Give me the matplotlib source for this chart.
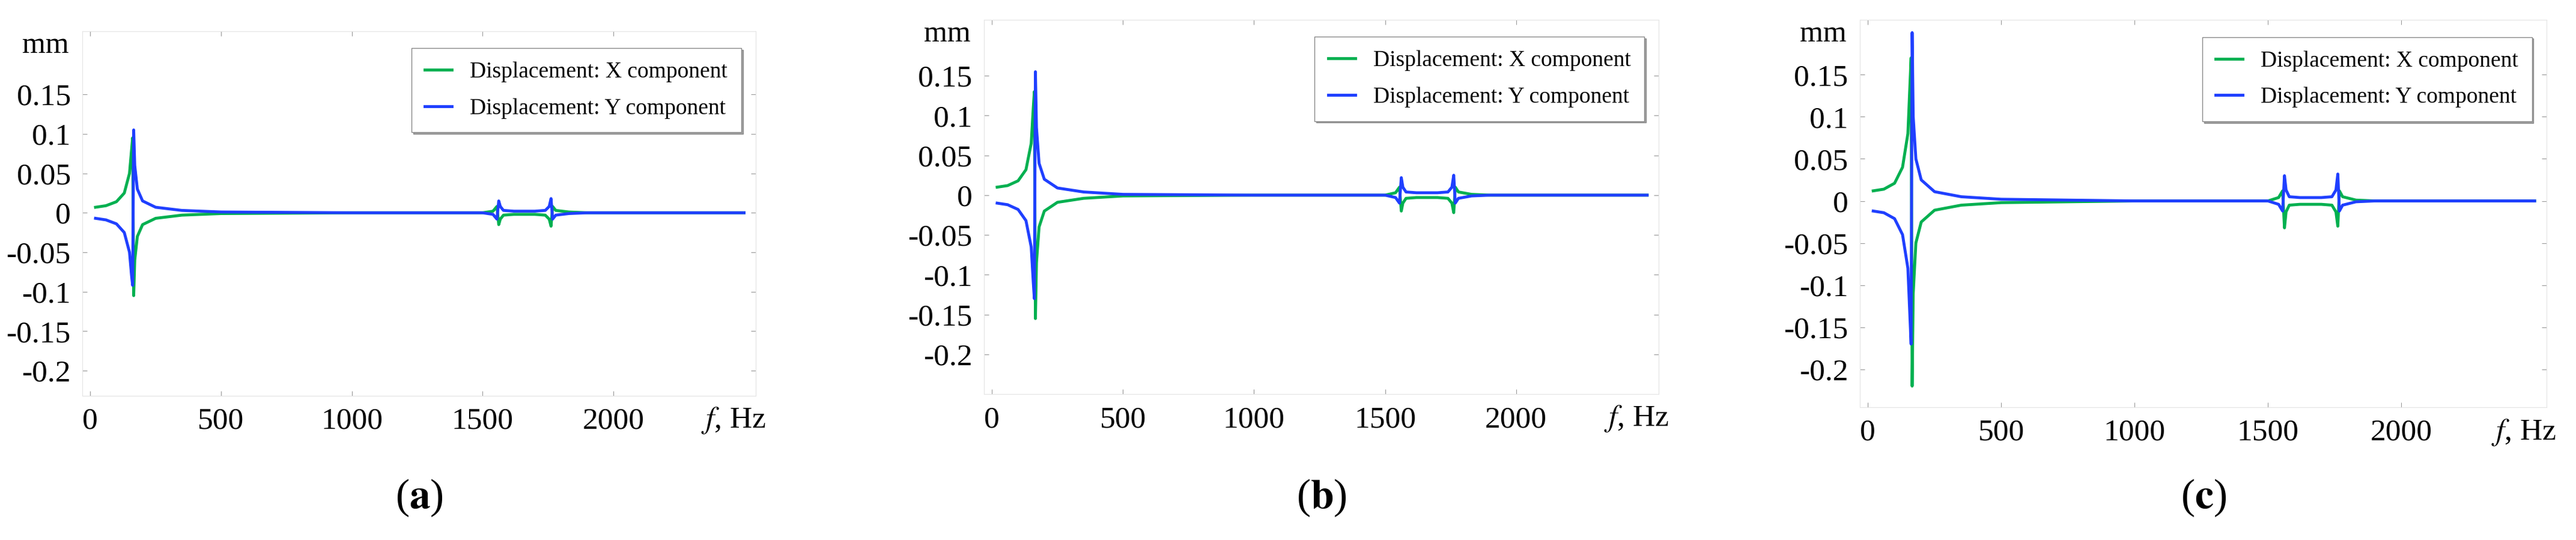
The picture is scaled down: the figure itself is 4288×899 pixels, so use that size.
import matplotlib.pyplot as plt

plt.rcParams['font.family'] = ['Liberation Serif', 'DejaVu Serif']
plt.rcParams['mathtext.fontset'] = 'stix'

freq = [20, 60, 100, 130, 150, 158, 162, 166, 170, 180, 200, 250, 350, 500, 1000, 1500,
        1540, 1555, 1562, 1568, 1580, 1620, 1700, 1740, 1755, 1762, 1768, 1780, 1830, 1900, 2000, 2500]

# panel (a)
xa = [0.007, 0.009, 0.014, 0.025, 0.05, 0.08, 0.095, -0.105, -0.06, -0.03, -0.015, -0.007, -0.003, -0.001, 0, 0,
      0.002, 0.008, -0.015, -0.008, -0.003, -0.002, -0.002, -0.003, -0.008, -0.017, 0.008, 0.003, 0.001, 0, 0, 0]
ya = [-0.007, -0.009, -0.014, -0.025, -0.05, -0.08, -0.092, 0.105, 0.06, 0.03, 0.015, 0.007, 0.003, 0.001, 0, 0,
      -0.002, -0.008, 0.015, 0.008, 0.003, 0.002, 0.002, 0.003, 0.008, 0.018, -0.008, -0.003, -0.001, 0, 0, 0]
# panel (b)
xb = [0.01, 0.012, 0.018, 0.032, 0.065, 0.11, 0.13, -0.155, -0.085, -0.04, -0.02, -0.009, -0.004, -0.001, 0, 0,
      0.003, 0.01, -0.02, -0.01, -0.004, -0.003, -0.003, -0.004, -0.01, -0.022, 0.01, 0.004, 0.001, 0, 0, 0]
yb = [-0.01, -0.012, -0.018, -0.032, -0.065, -0.11, -0.13, 0.155, 0.085, 0.04, 0.02, 0.009, 0.004, 0.001, 0, 0,
      -0.003, -0.01, 0.022, 0.01, 0.004, 0.003, 0.003, 0.004, 0.01, 0.025, -0.01, -0.004, -0.001, 0, 0, 0]
# panel (c)
xc = [0.012, 0.014, 0.021, 0.04, 0.08, 0.14, 0.17, -0.22, -0.11, -0.05, -0.025, -0.011, -0.005, -0.002, 0, 0,
      0.004, 0.012, -0.032, -0.013, -0.005, -0.004, -0.004, -0.005, -0.013, -0.03, 0.012, 0.005, 0.001, 0, 0, 0]
yc = [-0.012, -0.014, -0.021, -0.04, -0.08, -0.14, -0.17, 0.2, 0.1, 0.05, 0.025, 0.011, 0.005, 0.002, 0, 0,
      -0.004, -0.012, 0.03, 0.013, 0.005, 0.004, 0.004, 0.005, 0.013, 0.032, -0.012, -0.005, -0.001, 0, 0, 0]

yticks = [0.15, 0.1, 0.05, 0, -0.05, -0.1, -0.15, -0.2]
ytick_labels = ['0.15', '0.1', '0.05', '0', '-0.05', '-0.1', '-0.15', '-0.2']
xticks = [0, 500, 1000, 1500, 2000]
labels = ['a', 'b', 'c']

panels = [
    ([0.032, 0.267, 0.2614, 0.675], (-0.232, 0.23), xa, ya),
    ([0.382, 0.270, 0.262, 0.693], (-0.25, 0.22), xb, yb),
    ([0.722, 0.246, 0.2666, 0.717], (-0.245, 0.215), xc, yc),
]

fig = plt.figure(figsize=(42.88, 8.99), dpi=100)
for i, (rect, ylim, xs, ys) in enumerate(panels):
    ax = fig.add_axes(rect)
    ax.plot(freq, xs, color='#00b050', lw=3.5, label='Displacement: X component')
    ax.plot(freq, ys, color='#1f3fff', lw=3.5, label='Displacement: Y component')
    ax.set_xlim(-30, 2545)
    ax.set_ylim(*ylim)
    ax.set_yticks(yticks)
    ax.set_yticklabels(ytick_labels)
    ax.set_xticks(xticks)
    ax.tick_params(direction='in', top=True, right=True, labelsize=37, length=6,
                   color='#999999', pad=14)
    for s in ax.spines.values():
        s.set_color('#e4e4e4')
    ax.text(-0.02, 1.0, 'mm', transform=ax.transAxes, ha='right', va='top', fontsize=36)
    ax.text(2460, ylim[0] - 0.026 * (ylim[1] - ylim[0]), r'$f$, Hz',
            ha='center', va='top', fontsize=37)
    ax.legend(loc='upper right', bbox_to_anchor=(0.995, 0.985), fontsize=27,
              fancybox=False, shadow=True, handlelength=1.2, borderpad=0.6,
              labelspacing=0.7, edgecolor='#888888')
    cx = rect[0] + rect[2] / 2
    fig.text(cx, 0.04, r'($\mathbf{' + labels[i] + '}$)', ha='center', va='bottom', fontsize=50)

fig.savefig('out.png', dpi=100)
